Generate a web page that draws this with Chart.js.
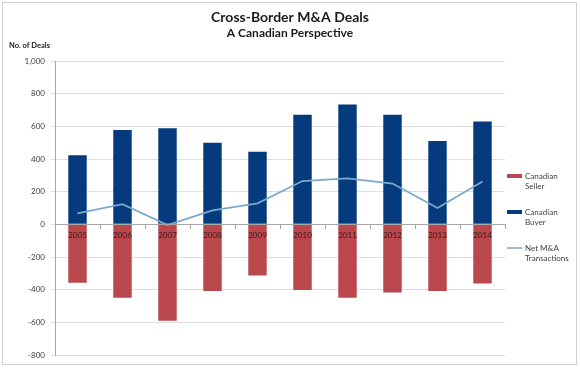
<!DOCTYPE html>
<html><head><meta charset="utf-8">
<script src="https://cdn.jsdelivr.net/npm/chart.js@4.4.1/dist/chart.umd.min.js"></script>
<style>html,body{margin:0;padding:0;background:#fff;}#wrap{width:580px;height:368px;position:relative;}</style>
</head><body><div id="wrap"><canvas id="c" width="580" height="368"></canvas></div>
<script>
const years = ['2005','2006','2007','2008','2009','2010','2011','2012','2013','2014'];
const canadianBuyer = [423,577,588,500,445,671,734,671,510,630];
const canadianSeller = [-357,-449,-591,-408,-313,-402,-449,-418,-408,-362];
const netTransactions = [67,124,-4,85,128,265,281,250,100,262];
const titleText = 'Cross-Border M&A Deals';
const subtitleText = 'A Canadian Perspective';
const yAxisTitle = 'No. of Deals';
const legendLabels = [['Canadian','Seller'],['Canadian','Buyer'],['Net M&A','Transactions']];

const FONT = 'Lato, "Open Sans", sans-serif';
const RED = '#B9474C', NAVY = '#053B7C', LINE = '#79AACB';

const decor = {
  id: 'decor',
  beforeDraw(chart) {
    const ctx = chart.ctx;
    ctx.save();
    ctx.fillStyle = '#fff';
    ctx.fillRect(0, 0, chart.width, chart.height);
    ctx.strokeStyle = '#D0D0D0';
    ctx.lineWidth = 1;
    ctx.strokeRect(2.5, 2.5, 574, 362);
    ctx.restore();
  },
  afterDraw(chart) {
    const ctx = chart.ctx;
    ctx.save();
    ctx.fillStyle = '#1a1a1a';
    ctx.textAlign = 'center';
    ctx.textBaseline = 'middle';
    ctx.font = 'bold 14px ' + FONT;
    ctx.fillText(titleText, 290, 17);
    ctx.font = 'bold 12px ' + FONT;
    ctx.fillText(subtitleText, 290, 33);
    ctx.textAlign = 'left';
    ctx.font = 'bold 7.5px ' + FONT;
    ctx.fillText(yAxisTitle, 9, 46);
    const items = [
      {type: 'box', color: RED, y: 176},
      {type: 'box', color: NAVY, y: 212},
      {type: 'line', color: LINE, y: 248}
    ];
    ctx.font = '8px ' + FONT;
    items.forEach((it, i) => {
      ctx.fillStyle = it.color;
      if (it.type === 'box') {
        ctx.fillRect(507, it.y - 2, 15, 4);
      } else {
        ctx.strokeStyle = it.color; ctx.lineWidth = 1.5;
        ctx.beginPath(); ctx.moveTo(507, it.y); ctx.lineTo(522, it.y); ctx.stroke();
      }
      ctx.fillStyle = '#404040';
      ctx.fillText(legendLabels[i][0], 525, it.y);
      ctx.fillText(legendLabels[i][1], 525, it.y + 10);
    });
    ctx.restore();
  }
};

new Chart(document.getElementById('c'), {
  type: 'bar',
  data: {
    labels: years,
    datasets: [
      {type: 'bar', label: 'Canadian Seller', data: canadianSeller, backgroundColor: RED, grouped: false, barPercentage: 0.41, categoryPercentage: 1, order: 2},
      {type: 'bar', label: 'Canadian Buyer', data: canadianBuyer, backgroundColor: NAVY, grouped: false, barPercentage: 0.41, categoryPercentage: 1, order: 2},
      {type: 'line', label: 'Net M&A Transactions', data: netTransactions, borderColor: LINE, borderWidth: 1.8, pointRadius: 0, tension: 0, fill: false, order: 1}
    ]
  },
  options: {
    responsive: false,
    animation: false,
    devicePixelRatio: 1,
    layout: {padding: {left: 0, right: 75, top: 61, bottom: 13}},
    plugins: {legend: {display: false}, tooltip: {enabled: false}, title: {display: false}},
    scales: {
      x: {
        position: {y: 0},
        offset: true,
        grid: {drawOnChartArea: false, drawTicks: true, tickLength: 4, color: '#A6A6A6', offset: true, z: 1},
        border: {color: '#A6A6A6', z: 1},
        ticks: {font: {family: FONT, size: 8}, color: '#3a1a1a', padding: 2, maxRotation: 0, z: 1}
      },
      y: {
        min: -800, max: 1000,
        afterFit(s) { s.width = 55; },
        ticks: {stepSize: 200, font: {family: FONT, size: 8}, color: '#404040', padding: 6,
          callback: v => Number(v).toLocaleString('en-US')},
        grid: {color: '#DEDEDE', tickLength: 4, drawTicks: true},
        border: {color: '#A6A6A6'}
      }
    }
  },
  plugins: [decor]
});
</script>
</body></html>
